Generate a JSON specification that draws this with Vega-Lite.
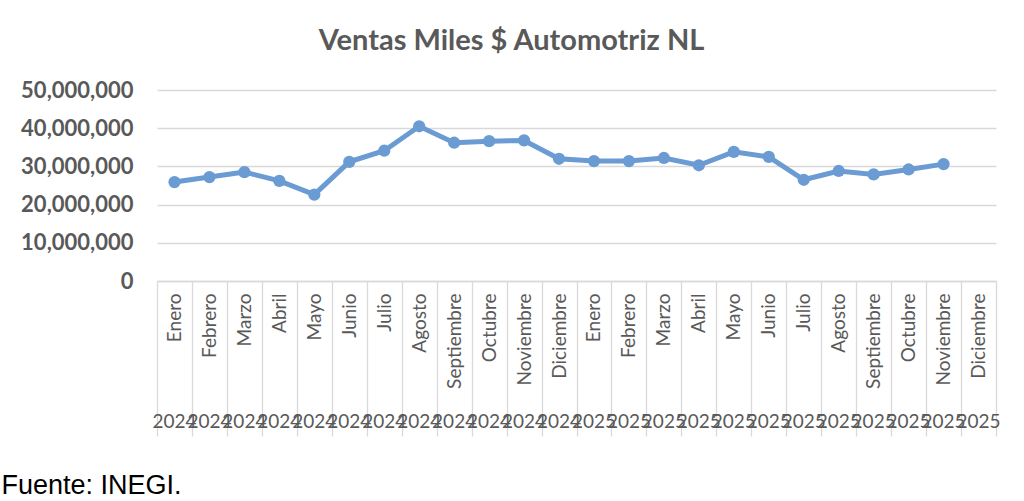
{
  "$schema": "https://vega.github.io/schema/vega-lite/v6.json",
  "autosize": "none",
  "padding": {"left": 157, "top": 90, "right": 28, "bottom": 220},
  "width": 839,
  "height": 191,
  "background": "white",
  "config": {"view": {"stroke": null}},
  "title": {
    "text": "Ventas Miles $ Automotriz NL",
    "font": "Lato",
    "fontSize": 29,
    "fontWeight": "bold",
    "color": "#595959",
    "anchor": "middle",
    "dx": -65,
    "dy": 17,
    "offset": 40
  },
  "data": {
    "values": [
      {"periodo": "Enero 2024", "ventas": 25900000},
      {"periodo": "Febrero 2024", "ventas": 27200000},
      {"periodo": "Marzo 2024", "ventas": 28500000},
      {"periodo": "Abril 2024", "ventas": 26200000},
      {"periodo": "Mayo 2024", "ventas": 22600000},
      {"periodo": "Junio 2024", "ventas": 31200000},
      {"periodo": "Julio 2024", "ventas": 34100000},
      {"periodo": "Agosto 2024", "ventas": 40500000},
      {"periodo": "Septiembre 2024", "ventas": 36200000},
      {"periodo": "Octubre 2024", "ventas": 36600000},
      {"periodo": "Noviembre 2024", "ventas": 36800000},
      {"periodo": "Diciembre 2024", "ventas": 32000000},
      {"periodo": "Enero 2025", "ventas": 31400000},
      {"periodo": "Febrero 2025", "ventas": 31400000},
      {"periodo": "Marzo 2025", "ventas": 32200000},
      {"periodo": "Abril 2025", "ventas": 30300000},
      {"periodo": "Mayo 2025", "ventas": 33800000},
      {"periodo": "Junio 2025", "ventas": 32500000},
      {"periodo": "Julio 2025", "ventas": 26500000},
      {"periodo": "Agosto 2025", "ventas": 28800000},
      {"periodo": "Septiembre 2025", "ventas": 27900000},
      {"periodo": "Octubre 2025", "ventas": 29200000},
      {"periodo": "Noviembre 2025", "ventas": 30600000},
      {"periodo": "Diciembre 2025", "ventas": null}
    ]
  },
  "layer": [
    {
      "mark": {"type": "line", "color": "#6a9bd2", "strokeWidth": 5},
      "encoding": {
        "x": {
          "field": "periodo",
          "type": "nominal",
          "sort": null,
          "scale": {
            "type": "band",
            "paddingInner": 0,
            "paddingOuter": 0,
            "domain": ["Enero 2024","Febrero 2024","Marzo 2024","Abril 2024","Mayo 2024","Junio 2024","Julio 2024","Agosto 2024","Septiembre 2024","Octubre 2024","Noviembre 2024","Diciembre 2024","Enero 2025","Febrero 2025","Marzo 2025","Abril 2025","Mayo 2025","Junio 2025","Julio 2025","Agosto 2025","Septiembre 2025","Octubre 2025","Noviembre 2025","Diciembre 2025"]
          },
          "axis": {
            "orient": "bottom",
            "title": null,
            "labelExpr": "split(datum.label, ' ')[0]",
            "labelAngle": -90,
            "labelFont": "Lato",
            "labelFontSize": 19,
            "labelColor": "#595959",
            "labelPadding": -143,
            "labelOverlap": false,
            "labelBound": false,
            "labelFlush": false,
            "tickBand": "extent",
            "tickSize": 155,
            "tickColor": "#d9d9d9",
            "tickWidth": 1.3,
            "domainColor": "#d9d9d9",
            "domainWidth": 1.3,
            "grid": false
          }
        },
        "y": {
          "field": "ventas",
          "type": "quantitative",
          "scale": {"domain": [0, 50000000], "nice": false},
          "axis": {
            "title": null,
            "values": [0, 10000000, 20000000, 30000000, 40000000, 50000000],
            "format": ",d",
            "labelFont": "Lato",
            "labelFontSize": 22,
            "labelFontWeight": "bold",
            "labelColor": "#595959",
            "labelPadding": 24,
            "ticks": false,
            "domain": false,
            "grid": true,
            "gridColor": "#d9d9d9",
            "gridWidth": 1.3
          }
        }
      }
    },
    {
      "mark": {"type": "point", "filled": true, "opacity": 1, "color": "#6a9bd2", "size": 150},
      "encoding": {
        "x": {
          "field": "periodo",
          "type": "nominal",
          "sort": null,
          "axis": {
            "orient": "bottom",
            "title": "Fuente: INEGI.",
            "titleFont": "Liberation Sans",
            "titleFontSize": 27,
            "titleFontWeight": "normal",
            "titleColor": "#000000",
            "titleAlign": "left",
            "titleBaseline": "alphabetic",
            "titleAngle": 0,
            "titleX": -156,
            "titleY": 212,
            "labelExpr": "split(datum.label, ' ')[1]",
            "labelAngle": 0,
            "labelFont": "Lato",
            "labelFontSize": 19,
            "labelColor": "#595959",
            "labelPadding": 131,
            "labelOverlap": false,
            "labelBound": false,
            "labelFlush": false,
            "ticks": false,
            "domain": false,
            "grid": false
          }
        },
        "y": {
          "field": "ventas",
          "type": "quantitative",
          "axis": {
            "title": null,
            "values": [0, 10000000, 20000000, 30000000, 40000000, 50000000],
            "format": ",d",
            "labelFont": "Lato",
            "labelFontSize": 22,
            "labelFontWeight": "bold",
            "labelColor": "#595959",
            "labelPadding": 24,
            "ticks": false,
            "domain": false,
            "grid": true,
            "gridColor": "#d9d9d9",
            "gridWidth": 1.3
          }
        }
      }
    }
  ],
  "resolve": {"axis": {"x": "independent"}}
}
